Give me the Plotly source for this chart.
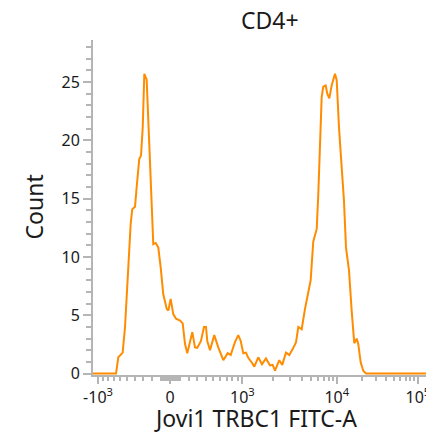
import numpy as np
import plotly.graph_objects as go

# histogram; x in logicle display decades, y = events per bin
pos = [0.019, 0.108, 0.311, 0.341, 0.396, 0.426, 0.468, 0.498, 0.518, 0.553,
       0.574, 0.607, 0.629, 0.651, 0.671, 0.701, 0.734, 0.765, 0.785, 0.816,
       0.849, 0.879, 0.912, 0.956, 0.976, 1.006, 1.039, 1.074, 1.125, 1.159,
       1.188, 1.217, 1.243, 1.281, 1.315, 1.344, 1.391, 1.429, 1.455, 1.471,
       1.506, 1.560, 1.611, 1.675, 1.731, 1.769, 1.823, 1.865, 1.896, 1.929,
       1.963, 1.992, 2.036, 2.069, 2.119, 2.166, 2.217, 2.268, 2.302, 2.332,
       2.386, 2.424, 2.471, 2.513, 2.557, 2.599, 2.628, 2.671, 2.713, 2.755,
       2.785, 2.818, 2.862, 2.882, 2.903, 2.925, 2.945, 2.976, 2.996, 3.022,
       3.052, 3.094, 3.116, 3.145, 3.179, 3.208, 3.234, 3.272, 3.306, 3.339,
       3.370, 3.390, 3.421, 3.454, 3.488, 4.454]
count = [0, 0, 0, 1.4, 1.8, 4.0, 9.7, 12.85, 14.1, 14.3,
         16.0, 18.4, 18.7, 21.1, 25.7, 25.2, 19.7, 14.0, 11.1, 11.2,
         10.8, 9.1, 6.8, 5.55, 5.4, 6.4, 5.1, 4.7, 4.55, 4.3,
         2.55, 1.75, 2.55, 3.55, 2.25, 2.2, 2.8, 4.0, 4.0, 2.8,
         2.0, 3.3, 2.25, 1.15, 1.75, 1.6, 2.7, 3.3, 2.8, 1.75,
         1.8, 1.35, 0.95, 0.6, 1.4, 0.8, 1.3, 0.7, 0.75, 0.25,
         1.15, 0.75, 1.8, 1.6, 2.1, 2.7, 4.0, 3.8, 5.55, 7.1,
         8.0, 11.3, 12.4, 15.4, 19.7, 23.7, 24.6, 24.7, 24.0, 23.6,
         24.7, 25.7, 25.15, 21.1, 17.7, 14.85, 10.8, 8.85, 5.4, 2.6,
         3.0, 2.55, 0.95, 0.25, 0, 0]

major_vals = [-1e3, 0, 1e3, 1e4, 1e5]
major_text = ["-10<sup>3</sup>", "0", "10<sup>3</sup>", "10<sup>4</sup>", "10<sup>5</sup>"]
minor_vals = ([-v for v in range(100, 1000, 100)] + [-v for v in range(10, 100, 10)]
              + list(range(10, 100, 10)) + list(range(100, 1000, 100))
              + list(range(2000, 10000, 1000)) + list(range(20000, 100000, 10000))
              + [200000])

# logicle scale (A = 0)
T, W, M = 262144, 1.0, 4.57
w = W * np.log(10)
lo, hi = 1.0, 50.0
for _ in range(100):
    p = (lo + hi) / 2
    if 2 * p * np.log(p) / (p + 1) > w:
        hi = p
    else:
        lo = p


def logicle_value(d):
    u = np.abs(d - W)
    v = T * 10 ** (-(M - W)) * (10 ** u - p ** 2 * 10 ** (-u / p) + p ** 2 - 1)
    return np.sign(d - W) * v


grid = np.linspace(0, M, 20001)
grid_val = logicle_value(grid)


def to_display(vals):
    return list(np.interp(vals, grid_val, grid))


axis_col = "#b5b5b5"
text_col = "#1a1a1a"
font = "Noto Sans"

fig = go.Figure()
fig.add_trace(go.Scatter(x=pos, y=count, mode="lines",
                         line=dict(color="#ff8c00", width=2),
                         showlegend=False, hoverinfo="skip"))

fig.update_layout(
    width=434, height=432,
    margin=dict(l=85, r=0, t=32, b=65),
    paper_bgcolor="white", plot_bgcolor="white",
    font=dict(family=font, size=16, color=text_col),
)
fig.update_xaxes(
    range=[0.019, 4.454], showgrid=False, zeroline=False,
    showline=True, linecolor=axis_col, linewidth=2,
    tickmode="array", tickvals=to_display(major_vals), ticktext=major_text,
    ticks="outside", ticklen=7, tickwidth=1.5, tickcolor=axis_col,
    minor=dict(tickmode="array", tickvals=to_display(minor_vals),
               ticks="outside", ticklen=4, tickwidth=1.5, tickcolor=axis_col),
)
fig.update_yaxes(
    range=[-0.12, 28.6], showgrid=False, zeroline=False,
    showline=True, linecolor=axis_col, linewidth=2,
    tickvals=[0, 5, 10, 15, 20, 25],
    ticks="outside", ticklen=8, tickwidth=1.5, tickcolor=axis_col,
    minor=dict(dtick=1, ticks="outside", ticklen=5, tickwidth=1.5,
               tickcolor=axis_col),
)

fig.add_annotation(text="CD4+", xref="paper", yref="paper",
                   x=(270 - 93) / 349, y=1 + 20 / 335, showarrow=False,
                   font=dict(size=23, color=text_col), yanchor="middle")
fig.add_annotation(text="Count", xref="paper", yref="paper",
                   x=-60 / 349, y=0.5, textangle=-90, showarrow=False,
                   font=dict(size=23, color=text_col), xanchor="center")
fig.add_annotation(text="Jovi1 TRBC1 FITC-A", xref="paper", yref="paper",
                   x=(255 - 93) / 349, y=-25 / 335, showarrow=False,
                   font=dict(size=23, color=text_col), yanchor="top")

fig.write_html("out.html")
